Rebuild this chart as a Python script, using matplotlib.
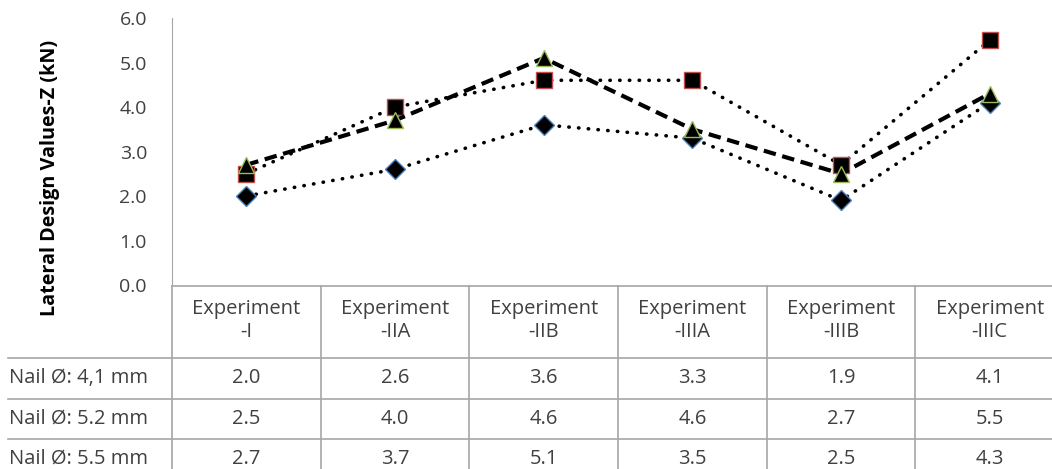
import matplotlib
matplotlib.use("Agg")
import matplotlib.pyplot as plt

# Lateral design values (kN) per experiment and nail diameter
experiments = ["Experiment\n-I", "Experiment\n-IIA", "Experiment\n-IIB",
               "Experiment\n-IIIA", "Experiment\n-IIIB", "Experiment\n-IIIC"]
series_names = ["Nail Ø: 4,1 mm", "Nail Ø: 5.2 mm", "Nail Ø: 5.5 mm"]
nail_41 = [2.0, 2.6, 3.6, 3.3, 1.9, 4.1]
nail_52 = [2.5, 4.0, 4.6, 4.6, 2.7, 5.5]
nail_55 = [2.7, 3.7, 5.1, 3.5, 2.5, 4.3]

plt.rcParams['font.family'] = ['Open Sans', 'DejaVu Sans']
TEXT = '#404040'
GRID = '#a6a6a6'
FS = 14.5

W, H = 1052, 469
fig = plt.figure(figsize=(W / 100, H / 100), dpi=100)

# plot area in pixels (it runs a little past the right edge)
left, right, top, bottom = 172, 1064, 18, 285
ax = fig.add_axes([left / W, (H - bottom) / H, (right - left) / W, (bottom - top) / H])

x = range(len(experiments))
dotted = (0, (0.1, 2.6))
ax.plot(x, nail_41, color='black', lw=2.6, linestyle=dotted, dash_capstyle='round',
        marker='D', markersize=10, markerfacecolor='black', markeredgecolor='#4f81bd',
        markeredgewidth=1, zorder=3, clip_on=False)
ax.plot(x, nail_52, color='black', lw=2.6, linestyle=dotted, dash_capstyle='round',
        marker='s', markersize=11.5, markerfacecolor='black', markeredgecolor='#c0504d',
        markeredgewidth=1, zorder=4, clip_on=False)
ax.plot(x, nail_55, color='black', lw=3, linestyle=(0, (3, 1.6)),
        marker='^', markersize=12, markerfacecolor='black', markeredgecolor='#9bbb59',
        markeredgewidth=1, zorder=5, clip_on=False)

ax.set_xlim(-0.5, len(experiments) - 0.5)
ax.set_ylim(0, 6)
ax.set_yticks([0, 1, 2, 3, 4, 5, 6])
ax.set_yticklabels([f'{v:.1f}' for v in range(7)], fontsize=14, color=TEXT)
ax.tick_params(axis='y', length=0, pad=18)
ax.set_xticks([])
for side in ['top', 'right', 'bottom']:
    ax.spines[side].set_visible(False)
ax.spines['left'].set_color(GRID)

# axis title sits lower than the plot centre, next to the table
fig.text(50 / W, 1 - 177.5 / H, 'Lateral Design Values-Z (kN)', rotation=90,
         ha='center', va='center', fontsize=14.2, fontweight='bold', color='black')

# data table under the plot, drawn in pixel coordinates
tab = fig.add_axes([0, 0, right / W, (H - bottom) / H])
tab.set_xlim(0, right)
tab.set_ylim(H, bottom)
tab.axis('off')

col_w = (right - left) / len(experiments)
header_bottom = 358
row_h = 40.5
n_rows = len(series_names)

tab.plot([left, right], [bottom + 0.5, bottom + 0.5], color=GRID, lw=1.2)
for i in range(n_rows):
    yy = header_bottom + i * row_h
    tab.plot([8, right], [yy, yy], color=GRID, lw=1.2)
for j in range(len(experiments) + 1):
    xx = left + j * col_w
    tab.plot([xx, xx], [bottom, H], color=GRID, lw=1.2)

for j, name in enumerate(experiments):
    cx = left + (j + 0.5) * col_w
    tab.text(cx, (bottom + header_bottom) / 2 - 1, name, ha='center', va='center',
             fontsize=FS, color=TEXT, linespacing=1.15)

for i, (name, vals) in enumerate(zip(series_names, [nail_41, nail_52, nail_55])):
    base = header_bottom + 25 + i * row_h
    tab.text(9, base, name, ha='left', va='baseline', fontsize=FS, color=TEXT)
    for j, v in enumerate(vals):
        cx = left + (j + 0.5) * col_w
        tab.text(cx, base, f'{v:.1f}', ha='center', va='baseline', fontsize=FS,
                 color=TEXT)

fig.savefig('out.png', dpi=100)
